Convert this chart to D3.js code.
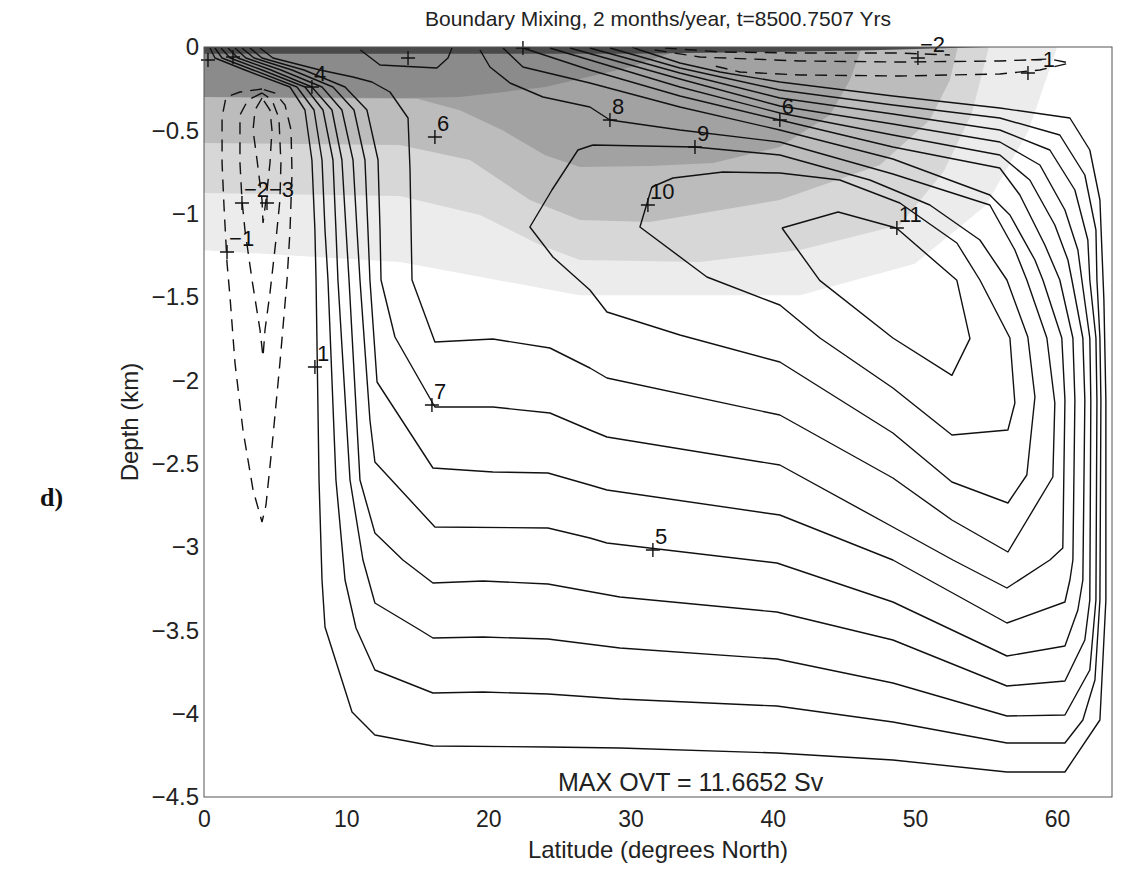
<!DOCTYPE html>
<html><head><meta charset="utf-8">
<script src="https://cdn.jsdelivr.net/npm/d3@7"></script>
<style>body{margin:0;background:#fff}svg{display:block}</style>
</head><body>
<svg id="chart" width="1132" height="872"></svg>
<script>
// Overturning streamfunction (Sv), latitude in degrees North, depth in km.
const latTicks = [0, 10, 20, 30, 40, 50, 60];
const depthTicks = [0, -0.5, -1, -1.5, -2, -2.5, -3, -3.5, -4, -4.5];

// Positive streamfunction contours (solid)
const psi1 = [[0.42,-0.006],[0.77,-0.066],[2.88,-0.138],[6.05,-0.24],[7.10,-0.378],[7.59,-0.678],[7.80,-1.098],[7.88,-1.398],[8.09,-2.598],[8.30,-3.198],[8.51,-3.48],[10.41,-3.99],[12.02,-4.128],[16.10,-4.194],[24.19,-4.20],[29.25,-4.206],[40.29,-4.236],[48.45,-4.278],[56.47,-4.35],[60.55,-4.35],[63.01,-4.038],[63.43,-3.318],[63.43,-2.118],[63.29,-1.518],[63.01,-0.918],[62.30,-0.618],[60.90,-0.426],[55.97,-0.366],[48.45,-0.294],[40.50,-0.21],[36.29,-0.15],[33.47,-0.096],[30.66,-0.018],[30.10,0]];
const psi2 = [[0.77,-0.006],[1.27,-0.066],[3.45,-0.138],[6.54,-0.24],[7.74,-0.378],[8.30,-0.678],[8.51,-1.098],[8.72,-1.398],[9.28,-2.598],[9.92,-3.198],[10.69,-3.486],[12.02,-3.738],[16.10,-3.876],[19.62,-3.87],[24.19,-3.882],[29.25,-3.912],[40.29,-3.954],[48.45,-4.05],[56.47,-4.176],[60.55,-4.176],[61.81,-4.038],[62.66,-3.798],[63.01,-3.318],[63.08,-2.118],[63.01,-1.746],[62.80,-1.398],[62.73,-1.098],[61.95,-0.768],[60.19,-0.528],[55.97,-0.426],[48.45,-0.348],[40.50,-0.258],[33.47,-0.126],[28.55,-0.006]];
const psi3 = [[1.20,-0.006],[1.83,-0.066],[4.08,-0.138],[7.10,-0.24],[8.37,-0.378],[9.07,-0.678],[9.28,-1.098],[9.42,-1.398],[10.27,-2.598],[11.18,-3.078],[12.02,-3.336],[15.19,-3.498],[16.10,-3.546],[19.62,-3.54],[24.19,-3.552],[29.25,-3.606],[40.29,-3.672],[48.45,-3.816],[56.47,-4.014],[60.55,-4.008],[62.30,-3.738],[62.73,-3.318],[62.80,-2.118],[62.73,-1.746],[62.30,-1.398],[62.16,-1.158],[61.25,-0.858],[59.49,-0.618],[55.97,-0.498],[48.45,-0.402],[40.50,-0.306],[33.47,-0.156],[27.14,-0.006]];
const psi4 = [[1.69,-0.006],[2.39,-0.066],[4.71,-0.138],[7.59,-0.24],[9.00,-0.378],[9.70,-0.678],[9.99,-1.098],[10.20,-1.398],[10.97,-2.598],[12.02,-2.916],[13.99,-3.078],[16.10,-3.216],[19.62,-3.204],[24.19,-3.222],[29.25,-3.30],[40.29,-3.39],[48.45,-3.558],[56.47,-3.834],[60.55,-3.804],[61.95,-3.558],[62.30,-3.318],[62.37,-2.118],[62.30,-1.746],[61.74,-1.398],[61.46,-1.218],[60.55,-0.978],[58.79,-0.708],[55.97,-0.57],[48.45,-0.462],[40.50,-0.354],[33.47,-0.192],[25.74,-0.006]];
const psi5 = [[2.18,-0.006],[2.95,-0.066],[5.41,-0.138],[8.30,-0.24],[9.70,-0.378],[10.48,-0.678],[10.76,-1.098],[10.97,-1.398],[11.67,-2.238],[12.02,-2.49],[16.24,-2.88],[24.19,-2.886],[27.14,-2.946],[28.34,-2.976],[40.29,-3.096],[48.45,-3.33],[56.47,-3.654],[60.55,-3.594],[61.46,-3.378],[61.81,-3.198],[61.95,-2.118],[61.81,-1.746],[61.04,-1.398],[60.76,-1.278],[59.84,-1.068],[58.08,-0.798],[55.97,-0.648],[48.45,-0.528],[40.50,-0.396],[33.47,-0.24],[24.33,-0.006]];
const psi6 = [[2.67,-0.006],[3.52,-0.066],[6.19,-0.138],[9.07,-0.24],[10.55,-0.378],[11.32,-0.678],[11.53,-1.098],[11.67,-1.398],[12.17,-2.01],[16.10,-2.526],[20.32,-2.55],[24.19,-2.556],[27.14,-2.628],[28.34,-2.658],[40.50,-2.808],[48.45,-3.078],[56.47,-3.456],[60.55,-3.33],[60.90,-3.198],[61.11,-3.078],[61.25,-2.118],[61.11,-1.746],[60.19,-1.398],[59.14,-1.188],[57.38,-0.888],[55.97,-0.726],[48.45,-0.60],[40.50,-0.438],[33.47,-0.294],[27.14,-0.138],[22.43,-0.006]];
const psi7 = [[3.23,-0.006],[4.08,-0.066],[7.03,-0.138],[9.92,-0.24],[11.46,-0.378],[12.24,-0.678],[12.38,-1.098],[12.45,-1.398],[13.43,-1.74],[16.24,-2.16],[20.32,-2.16],[24.33,-2.196],[27.14,-2.298],[28.34,-2.34],[40.50,-2.508],[48.45,-2.88],[52.67,-3.078],[56.47,-3.246],[59.49,-3.078],[60.40,-3.006],[60.55,-2.118],[60.33,-1.746],[59.0,-1.398],[58.44,-1.278],[56.68,-1.008],[55.27,-0.888],[48.45,-0.672],[40.50,-0.498],[33.47,-0.36],[27.14,-0.216],[22.43,-0.12],[21.03,-0.006]];
const psi8 = [[3.94,-0.006],[4.85,-0.066],[8.16,-0.138],[10.48,-0.18],[11.81,-0.21],[13.08,-0.27],[14.35,-0.426],[14.49,-0.738],[14.63,-1.398],[16.24,-1.77],[20.32,-1.752],[24.33,-1.806],[27.14,-1.926],[28.34,-1.986],[40.50,-2.208],[48.45,-2.586],[52.60,-2.838],[56.54,-3.03],[59.70,-2.58],[59.84,-2.136],[59.28,-1.746],[57.87,-1.398],[57.03,-1.218],[55.27,-0.948],[48.45,-0.762],[40.50,-0.57],[33.47,-0.498],[28.55,-0.438],[27.14,-0.36],[23.84,-0.30],[21.52,-0.216],[20.11,-0.12],[19.41,-0.018]];
const psi9 = [[27.35,-0.588],[26.30,-0.618],[24.47,-0.858],[22.92,-1.08],[24.54,-1.26],[27.14,-1.458],[28.34,-1.59],[33.47,-1.728],[40.50,-1.89],[48.45,-2.316],[52.60,-2.61],[56.54,-2.736],[57.87,-2.568],[58.44,-2.10],[57.94,-1.74],[56.47,-1.398],[54.57,-1.158],[51.05,-0.948],[46.83,-0.798],[40.50,-0.648],[34.53,-0.60],[27.35,-0.588]];
const psi10 = [[31.50,-0.84],[32.98,-0.786],[36.50,-0.75],[40.50,-0.756],[44.72,-0.798],[48.94,-0.936],[52.95,-1.176],[54.57,-1.398],[56.68,-1.746],[57.03,-2.136],[56.54,-2.298],[52.60,-2.328],[48.45,-2.046],[43.32,-1.746],[40.50,-1.548],[35.37,-1.38],[30.66,-1.08],[31.50,-0.84]];
const psi11 = [[40.65,-1.086],[44.6,-0.99],[48.7,-1.086],[52.95,-1.40],[53.87,-1.75],[52.6,-1.97],[48.45,-1.746],[43.3,-1.40],[40.65,-1.086]];
const psiSurface = [[11.0,-0.018],[12.38,-0.108],[16.38,-0.126],[17.16,-0.066],[17.44,-0.006]];

// Negative streamfunction contours (dashed)
const neg1West = [[4.08,-0.252],[2.53,-0.27],[1.55,-0.30],[1.27,-0.42],[1.27,-0.696],[1.41,-0.96],[1.62,-1.296],[1.83,-1.50],[2.18,-1.896],[2.74,-2.298],[3.45,-2.658],[4.08,-2.85],[4.36,-2.748],[4.78,-2.40],[5.34,-1.896],[5.84,-1.398],[6.05,-1.098],[6.19,-0.756],[6.12,-0.498],[5.70,-0.348],[4.99,-0.276],[4.08,-0.252]];
const neg2West = [[4.08,-0.276],[3.09,-0.318],[2.53,-0.408],[2.53,-0.696],[2.67,-0.918],[2.88,-1.098],[3.38,-1.398],[3.94,-1.698],[4.15,-1.86],[4.29,-1.698],[4.64,-1.476],[5.06,-1.158],[5.34,-0.918],[5.41,-0.696],[5.27,-0.426],[4.78,-0.318],[4.08,-0.276]];
const neg3West = [[4.08,-0.306],[3.59,-0.378],[3.45,-0.498],[3.73,-0.678],[4.08,-0.918],[4.15,-1.056],[4.36,-0.918],[4.64,-0.696],[4.78,-0.498],[4.64,-0.378],[4.08,-0.306]];
const neg1East = [[31.71,-0.018],[34.88,-0.06],[41.91,-0.084],[48.94,-0.09],[55.97,-0.084],[59.49,-0.072],[60.90,-0.096],[58.79,-0.138],[55.97,-0.162],[48.94,-0.174],[41.91,-0.168],[37.69,-0.15],[35.93,-0.114]];
const neg2East = [[32.42,-0.006],[36.29,-0.03],[41.91,-0.036],[48.94,-0.036],[52.46,-0.048]];

// Shaded field: lower edge of each gray band (lightest first)
const bandEdge1 = [[0,-1.22],[13.8,-1.29],[26.4,-1.49],[41.9,-1.49],[50,-1.3],[55,-0.95],[58,-0.5],[60,0]];
const bandEdge2 = [[0,-0.876],[13.78,-0.894],[19.41,-1.008],[23.63,-1.188],[26.44,-1.278],[34.88,-1.29],[41.91,-1.218],[48.94,-1.068],[52,-0.75],[54,-0.4],[55.2,0]];
const bandEdge3 = [[0,-0.576],[13.78,-0.588],[18.7,-0.678],[22.92,-0.918],[26.44,-1.038],[31.36,-1.05],[40.5,-0.918],[47.54,-0.708],[51.05,-0.438],[52.46,-0.198],[53.02,0]];
const bandEdge4 = [[0,-0.30],[15,-0.31],[18,-0.38],[21,-0.5],[24,-0.65],[26.44,-0.72],[31.36,-0.714],[35.79,-0.696],[40.5,-0.60],[44.02,-0.408],[45.43,-0.198],[46.27,0]];
const bandEdge5 = [[0,-0.30],[14,-0.306],[18,-0.30],[24,-0.24],[30,-0.12],[34,0]];
const bandEdge6 = [[0,-0.04],[30,-0.04],[40,-0.03],[47,-0.02],[55,0]];

// Contour labels: text and the point it marks
const labelText = ["4","6","1","7","5","8","6","9","10","11","\u22121","\u22122","\u22123","\u22121","\u22122"];
const labelAt = [[7.59,-0.24],[16.24,-0.54],[7.80,-1.92],[16.03,-2.148],[31.57,-3.018],[28.55,-0.438],[40.50,-0.438],[34.53,-0.60],[31.22,-0.948],[48.73,-1.086],[1.62,-1.23],[2.67,-0.936],[4.43,-0.936],[57.95,-0.156],[50.21,-0.066]];
const extraMarks = [[22.43,-0.006],[14.35,-0.066],[0.28,-0.078],[2.04,-0.06]];

const titleText = "Boundary Mixing, 2 months/year, t=8500.7507 Yrs";
const maxOvt = 11.6652;

const svg = d3.select("#chart");
const x = d3.scaleLinear().domain([0, 63.86]).range([204, 1112]);
const y = d3.scaleLinear().domain([-4.5, 0]).range([797, 47]);
const font = "'Liberation Sans', Arial, Helvetica, sans-serif";

svg.append("defs").append("clipPath").attr("id","plotClip")
  .append("rect").attr("x",x(0)).attr("y",y(0)).attr("width",x(63.86)-x(0)).attr("height",y(-4.5)-y(0));

const plot = svg.append("g").attr("clip-path","url(#plotClip)");
const line = d3.line().x(d => x(d[0])).y(d => y(d[1]));

// gray bands, lightest underneath
const bandColors = ["#ececec", "#d7d7d7", "#bcbcbc", "#a2a2a2", "#8b8b8b", "#4a4a4a"];
[bandEdge1, bandEdge2, bandEdge3, bandEdge4, bandEdge5, bandEdge6].forEach((edge, i) => {
  const last = edge[edge.length - 1];
  const poly = [[0, 0]].concat(edge, [[last[0], 0]]);
  plot.append("path").attr("d", line(poly) + "Z").attr("fill", bandColors[i]).attr("stroke", "none");
});

// solid contours
[psi1, psi2, psi3, psi4, psi5, psi6, psi7, psi8, psi9, psi10, psi11, psiSurface].forEach(c => {
  plot.append("path").attr("d", line(c)).attr("fill","none").attr("stroke","#111").attr("stroke-width",1.4).attr("stroke-linejoin","round");
});
// dashed contours
[neg1West, neg2West, neg3West, neg1East, neg2East].forEach(c => {
  plot.append("path").attr("d", line(c)).attr("fill","none").attr("stroke","#111").attr("stroke-width",1.4).attr("stroke-dasharray","12,8");
});

// label markers and text
const marks = svg.append("g");
function cross(p) {
  const cx = x(p[0]), cy = y(p[1]);
  marks.append("path").attr("d", `M${cx-7},${cy}H${cx+7}M${cx},${cy-7}V${cy+7}`).attr("stroke","#111").attr("stroke-width",1.4);
}
labelAt.forEach((p, i) => {
  cross(p);
  marks.append("text").attr("x", x(p[0]) + 2).attr("y", y(p[1]) - 6)
    .attr("font-family", font).attr("font-size", 22).attr("fill", "#111").text(labelText[i]);
});
extraMarks.forEach(cross);

// frame
svg.append("rect").attr("x",x(0)).attr("y",y(0)).attr("width",x(63.86)-x(0)).attr("height",y(-4.5)-y(0))
  .attr("fill","none").attr("stroke","#555").attr("stroke-width",1);

// axes
const fmt = d3.format("");
const xAxis = svg.append("g").attr("transform",`translate(0,${y(-4.5)})`)
  .call(d3.axisBottom(x).tickValues(latTicks).tickSize(0).tickPadding(14).tickFormat(fmt));
xAxis.select(".domain").remove();
xAxis.selectAll("text").attr("font-family",font).attr("font-size",23).attr("fill","#222");
const yAxis = svg.append("g").attr("transform",`translate(${x(0)},0)`)
  .call(d3.axisLeft(y).tickValues(depthTicks).tickSize(0).tickPadding(5).tickFormat(fmt));
yAxis.select(".domain").remove();
yAxis.selectAll("text").attr("font-family",font).attr("font-size",24).attr("fill","#222");

// titles
svg.append("text").attr("x",(x(0)+x(63.86))/2).attr("y",26).attr("text-anchor","middle")
  .attr("font-family",font).attr("font-size",21).attr("fill","#222").text(titleText);
svg.append("text").attr("x",(x(0)+x(63.86))/2).attr("y",858).attr("text-anchor","middle")
  .attr("font-family",font).attr("font-size",24).attr("fill","#222").text("Latitude (degrees North)");
svg.append("text").attr("transform",`translate(138,${(y(0)+y(-4.5))/2}) rotate(-90)`).attr("text-anchor","middle")
  .attr("font-family",font).attr("font-size",24).attr("fill","#222").text("Depth (km)");
svg.append("text").attr("x",x(24.9)).attr("y",y(-4.464)).attr("font-family",font).attr("font-size",25).attr("fill","#222")
  .text(`MAX OVT = ${maxOvt} Sv`);
svg.append("text").attr("x",40).attr("y",506).attr("font-family","'Liberation Serif', 'Times New Roman', serif")
  .attr("font-weight","bold").attr("font-size",26).attr("fill","#111").text("d)");
</script>
</body></html>
